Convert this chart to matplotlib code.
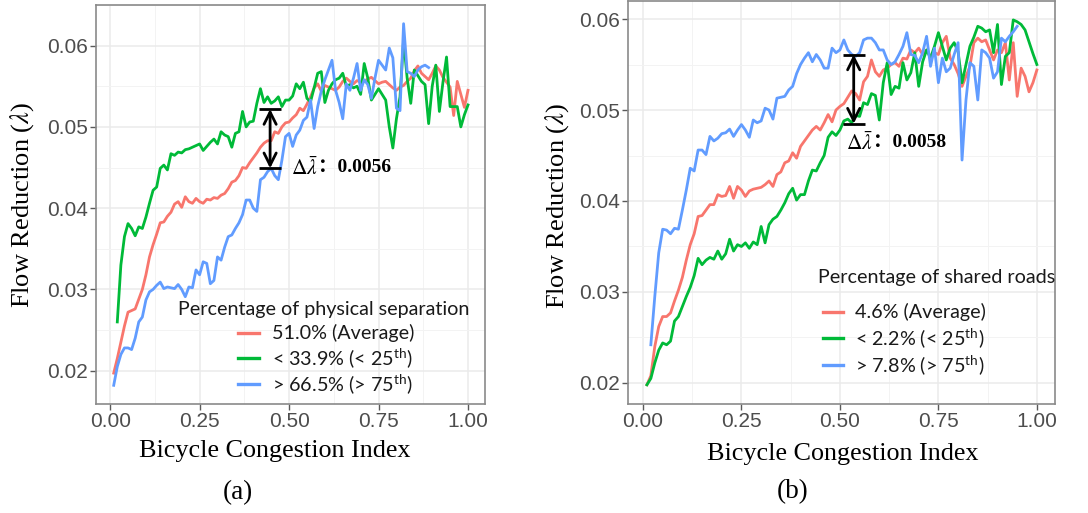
import numpy as np
import matplotlib
matplotlib.use("Agg")
import matplotlib.pyplot as plt
from matplotlib.lines import Line2D
from matplotlib.ticker import MultipleLocator, FuncFormatter

plt.rcParams["mathtext.fontset"] = "custom"
plt.rcParams["mathtext.rm"] = "Lato"
plt.rcParams["mathtext.it"] = "Lato:italic"

# ---------------------------------------------------------------- data
bci = np.round(np.arange(1, 101) / 100, 2)          # bicycle congestion index grid

# (a) physical separation
sep_avg = [
    0.0197, 0.0215, 0.0235, 0.0255, 0.0272, 0.0274, 0.0276, 0.0288, 0.0300, 0.0318,
    0.0340, 0.0355, 0.0368, 0.0382, 0.0383, 0.0390, 0.0395, 0.0405, 0.0408, 0.0401,
    0.0414, 0.0408, 0.0406, 0.0412, 0.0408, 0.0406, 0.0411, 0.0410, 0.0413, 0.0412,
    0.0416, 0.0418, 0.0424, 0.0432, 0.0434, 0.0440, 0.0450, 0.0449, 0.0456, 0.0462,
    0.0468, 0.0475, 0.0480, 0.0483, 0.0483, 0.0494, 0.0492, 0.0500, 0.0505, 0.0506,
    0.0511, 0.0515, 0.0523, 0.0520, 0.0528, 0.0537, 0.0548, 0.0553, 0.0544, 0.0551,
    0.0549, 0.0547, 0.0545, 0.0549, 0.0556, 0.0560, 0.0556, 0.0553, 0.0557, 0.0555,
    0.0556, 0.0559, 0.0561, 0.0557, 0.0553, 0.0555, 0.0556, 0.0552, 0.0548, 0.0545,
    0.0549, 0.0551, 0.0556, 0.0560, 0.0569, 0.0575, 0.0566, 0.0562, 0.0558, 0.0566,
    0.0575, 0.0570, 0.0561, 0.0555, 0.0549, 0.0514, 0.0556, 0.0540, 0.0524, 0.0545,
]
sep_low = [  # starts at 0.02
    0.0260, 0.0330, 0.0365, 0.0381, 0.0375, 0.0366, 0.0377, 0.0375, 0.0389,
    0.0406, 0.0422, 0.0426, 0.0449, 0.0453, 0.0447, 0.0467, 0.0465, 0.0469, 0.0468,
    0.0472, 0.0473, 0.0475, 0.0477, 0.0479, 0.0471, 0.0476, 0.0481, 0.0485, 0.0479,
    0.0494, 0.0490, 0.0488, 0.0475, 0.0492, 0.0494, 0.0519, 0.0500, 0.0506, 0.0507,
    0.0529, 0.0547, 0.0530, 0.0537, 0.0529, 0.0532, 0.0537, 0.0525, 0.0533, 0.0533,
    0.0538, 0.0553, 0.0547, 0.0555, 0.0535, 0.0531, 0.0548, 0.0566, 0.0568, 0.0530,
    0.0545, 0.0553, 0.0558, 0.0560, 0.0566, 0.0550, 0.0552, 0.0548, 0.0550, 0.0540,
    0.0578, 0.0560, 0.0533, 0.0540, 0.0547, 0.0540, 0.0533, 0.0500, 0.0474, 0.0510,
    0.0537, 0.0607, 0.0560, 0.0529, 0.0570, 0.0563, 0.0556, 0.0552, 0.0504, 0.0550,
    0.0576, 0.0519, 0.0555, 0.0586, 0.0525, 0.0525, 0.0525, 0.0500, 0.0515, 0.0527,
]
sep_high = [  # ends at 0.89
    0.0182, 0.0205, 0.0220, 0.0228, 0.0228, 0.0226, 0.0240, 0.0260, 0.0266, 0.0287,
    0.0297, 0.0300, 0.0305, 0.0309, 0.0301, 0.0303, 0.0302, 0.0301, 0.0306, 0.0300,
    0.0291, 0.0303, 0.0302, 0.0324, 0.0318, 0.0334, 0.0332, 0.0307, 0.0311, 0.0340,
    0.0336, 0.0352, 0.0365, 0.0367, 0.0375, 0.0382, 0.0392, 0.0410, 0.0410, 0.0400,
    0.0396, 0.0435, 0.0438, 0.0445, 0.0449, 0.0440, 0.0435, 0.0459, 0.0488, 0.0492,
    0.0476, 0.0490, 0.0496, 0.0508, 0.0512, 0.0533, 0.0498, 0.0525, 0.0544, 0.0558,
    0.0570, 0.0582, 0.0545, 0.0530, 0.0510, 0.0553, 0.0545, 0.0560, 0.0578, 0.0545,
    0.0558, 0.0552, 0.0535, 0.0560, 0.0582, 0.0576, 0.0570, 0.0597, 0.0585, 0.0523,
    0.0520, 0.0627, 0.0568, 0.0566, 0.0562, 0.0570, 0.0574, 0.0576, 0.0573,
]

# (b) shared roads
shr_avg = [
    0.0198, 0.0208, 0.0240, 0.0262, 0.0273, 0.0273, 0.0277, 0.0290, 0.0302, 0.0316,
    0.0335, 0.0352, 0.0364, 0.0383, 0.0384, 0.0390, 0.0396, 0.0396, 0.0407, 0.0405,
    0.0406, 0.0416, 0.0403, 0.0416, 0.0412, 0.0405, 0.0411, 0.0413, 0.0414, 0.0415,
    0.0418, 0.0422, 0.0416, 0.0429, 0.0432, 0.0442, 0.0444, 0.0453, 0.0447, 0.0460,
    0.0466, 0.0472, 0.0478, 0.0482, 0.0478, 0.0486, 0.0495, 0.0487, 0.0500, 0.0504,
    0.0507, 0.0514, 0.0521, 0.0518, 0.0511, 0.0531, 0.0537, 0.0555, 0.0542, 0.0537,
    0.0544, 0.0546, 0.0550, 0.0552, 0.0548, 0.0557, 0.0556, 0.0566, 0.0563, 0.0568,
    0.0561, 0.0566, 0.0559, 0.0563, 0.0561, 0.0574, 0.0581, 0.0557, 0.0550, 0.0540,
    0.0526, 0.0537, 0.0548, 0.0574, 0.0579, 0.0575, 0.0577, 0.0566, 0.0555, 0.0566,
    0.0563, 0.0574, 0.0533, 0.0574, 0.0515, 0.0546, 0.0537, 0.0520, 0.0530, 0.0544,
]
shr_low = [
    0.0198, 0.0205, 0.0222, 0.0236, 0.0244, 0.0242, 0.0246, 0.0268, 0.0273, 0.0284,
    0.0295, 0.0305, 0.0318, 0.0337, 0.0330, 0.0335, 0.0338, 0.0336, 0.0345, 0.0336,
    0.0342, 0.0358, 0.0345, 0.0352, 0.0350, 0.0354, 0.0348, 0.0355, 0.0352, 0.0372,
    0.0354, 0.0374, 0.0380, 0.0383, 0.0390, 0.0398, 0.0408, 0.0414, 0.0401, 0.0407,
    0.0407, 0.0422, 0.0434, 0.0433, 0.0442, 0.0450, 0.0470, 0.0476, 0.0472, 0.0478,
    0.0488, 0.0490, 0.0486, 0.0494, 0.0493, 0.0508, 0.0506, 0.0518, 0.0516, 0.0489,
    0.0530, 0.0552, 0.0517, 0.0526, 0.0524, 0.0552, 0.0533, 0.0541, 0.0563, 0.0526,
    0.0553, 0.0566, 0.0557, 0.0570, 0.0585, 0.0570, 0.0555, 0.0568, 0.0574, 0.0564,
    0.0530, 0.0550, 0.0570, 0.0580, 0.0592, 0.0590, 0.0586, 0.0588, 0.0563, 0.0594,
    0.0528, 0.0559, 0.0563, 0.0599, 0.0597, 0.0594, 0.0588, 0.0575, 0.0562, 0.0550,
]
shr_high = [  # 0.02 .. 0.95
    0.0242, 0.0295, 0.0343, 0.0369, 0.0368, 0.0364, 0.0370, 0.0369, 0.0390,
    0.0412, 0.0436, 0.0433, 0.0456, 0.0456, 0.0451, 0.0471, 0.0466, 0.0469, 0.0474,
    0.0475, 0.0479, 0.0471, 0.0478, 0.0484, 0.0478, 0.0470, 0.0489, 0.0486, 0.0488,
    0.0502, 0.0500, 0.0490, 0.0513, 0.0514, 0.0515, 0.0522, 0.0526, 0.0540, 0.0550,
    0.0557, 0.0563, 0.0553, 0.0561, 0.0555, 0.0546, 0.0546, 0.0568, 0.0563, 0.0566,
    0.0577, 0.0566, 0.0561, 0.0559, 0.0563, 0.0577, 0.0579, 0.0579, 0.0574, 0.0566,
    0.0566, 0.0555, 0.0550, 0.0553, 0.0561, 0.0570, 0.0585, 0.0561, 0.0560, 0.0552,
    0.0563, 0.0581, 0.0548, 0.0568, 0.0530, 0.0557, 0.0542, 0.0546, 0.0561, 0.0574,
    0.0445, 0.0511, 0.0552, 0.0548, 0.0511, 0.0566, 0.0563, 0.0557, 0.0535, 0.0542,
    0.0579, 0.0575, 0.0581, 0.0586, 0.0592,
]

sep_title = "Percentage of physical separation"
sep_labels = ["51.0% (Average)", "< 33.9% (< 25$^{\\mathrm{th}}$)", "> 66.5% (> 75$^{\\mathrm{th}}$)"]
shr_title = "Percentage of shared roads"
shr_labels = ["4.6% (Average)", "< 2.2% (< 25$^{\\mathrm{th}}$)", "> 7.8% (> 75$^{\\mathrm{th}}$)"]

# mean-gap markers: (x, lower, upper, text)
gap_a = (0.447, 0.0449, 0.0522, "0.0056")
gap_b = (0.535, 0.0485, 0.0561, "0.0058")

RED, GREEN, BLUE = "#F8766D", "#00BA38", "#619CFF"

# ---------------------------------------------------------------- figure
W, H = 1088, 513
fig = plt.figure(figsize=(W / 100, H / 100), dpi=100)


def fx(px):
    return px / W


def fy(py):
    return 1 - py / H


def style_axes(ax, xlim, ylim):
    ax.set_xlim(*xlim)
    ax.set_ylim(*ylim)
    ax.xaxis.set_major_locator(MultipleLocator(0.25))
    ax.xaxis.set_minor_locator(MultipleLocator(0.125))
    ax.yaxis.set_major_locator(MultipleLocator(0.01))
    ax.yaxis.set_minor_locator(MultipleLocator(0.005))
    ax.xaxis.set_major_formatter(FuncFormatter(lambda v, p: f"{v:.2f}"))
    ax.yaxis.set_major_formatter(FuncFormatter(lambda v, p: f"{v:.2f}"))
    ax.grid(which="major", color="#ebebeb", lw=1.1)
    ax.grid(which="minor", color="#f3f3f3", lw=0.7)
    ax.set_axisbelow(True)
    for s in ax.spines.values():
        s.set_color("#8a8a8a")
        s.set_linewidth(1.2)
    ax.tick_params(which="major", length=4.0, width=1.0, color="#5a5a5a",
                   labelsize=15, labelcolor="#4d4d4d", pad=1.5)
    ax.tick_params(which="minor", length=0)
    for lab in ax.get_xticklabels() + ax.get_yticklabels():
        lab.set_fontfamily("Liberation Sans")


def gap_marker(ax, gap, half_w, text_px):
    x, lo, hi, txt = gap
    ax.annotate("", xy=(x, lo), xytext=(x, hi),
                arrowprops=dict(arrowstyle="<->", lw=2.0, color="black",
                                mutation_scale=22, shrinkA=0, shrinkB=0))
    ax.hlines([lo, hi], x - half_w, x + half_w, color="black", lw=2.0)
    t1 = fig.text(fx(text_px[0]), fy(text_px[1]), r"$\Delta\bar{\lambda}$",
                  fontsize=15.5, math_fontfamily="stix", va="center", ha="left")
    ax.annotate("：" + txt, xy=(1, 0.5), xycoords=t1, va="center", ha="left",
                fontsize=14, fontweight="bold",
                family=["Liberation Serif", "Noto Sans CJK SC"])


def legend_block(title, labels, title_px, key_x, text_x, rows):
    fig.text(fx(title_px[0]), fy(title_px[1]), title, fontsize=14.2, family="Lato",
             color="#1a1a1a", va="center", ha="left")
    for lab, col, ry in zip(labels, (RED, GREEN, BLUE), rows):
        fig.add_artist(Line2D([fx(key_x[0]), fx(key_x[1])], [fy(ry), fy(ry)],
                              transform=fig.transFigure, color=col, lw=2.4))
        fig.text(fx(text_x), fy(ry), lab, fontsize=14.2, family="Lato",
                 color="#1a1a1a", va="center", ha="left")


# panel (a)
ax_a = fig.add_axes([fx(96), fy(404), (485 - 96) / W, (404 - 5) / H])
ax_a.plot(bci, sep_avg, color=RED, lw=2.0)
ax_a.plot(bci[1:], sep_low, color=GREEN, lw=2.0)
ax_a.plot(bci[:len(sep_high)], sep_high, color=BLUE, lw=2.0)
style_axes(ax_a, (-0.0395, 1.0475), (0.0159, 0.0650))
gap_marker(ax_a, gap_a, 0.031, (291, 168))
legend_block(sep_title, sep_labels, (178, 309), (238, 259), 272, (333, 358, 384))

# panel (b)
ax_b = fig.add_axes([fx(628), fy(404), (1055 - 628) / W, (404 - 1) / H])
ax_b.plot(bci, shr_avg, color=RED, lw=2.0)
ax_b.plot(bci, shr_low, color=GREEN, lw=2.0)
ax_b.plot(bci[1:1 + len(shr_high)], shr_high, color=BLUE, lw=2.0)
style_axes(ax_b, (-0.038, 1.046), (0.01769, 0.06198))
gap_marker(ax_b, gap_b, 0.028, (846, 143))
legend_block(shr_title, shr_labels, (818, 278), (823, 843), 855, (312, 338, 365))

# axis titles and panel tags
serif = "Liberation Serif"
for cx, cy in ((22, 205), (557, 206)):
    fig.text(fx(cx), fy(cy), r"Flow Reduction ($\lambda$)", rotation=90, fontsize=19,
             family=serif, math_fontfamily="stix", ha="center", va="center")
for cx, cy in ((275, 451), (843, 454)):
    fig.text(fx(cx), fy(cy), "Bicycle Congestion Index", fontsize=18.8, family=serif,
             ha="center", va="center")
fig.text(fx(238), fy(493), "(a)", fontsize=19.5, family=serif, ha="center", va="center")
fig.text(fx(793), fy(492), "(b)", fontsize=19.5, family=serif, ha="center", va="center")

fig.savefig("out.png", dpi=100)
